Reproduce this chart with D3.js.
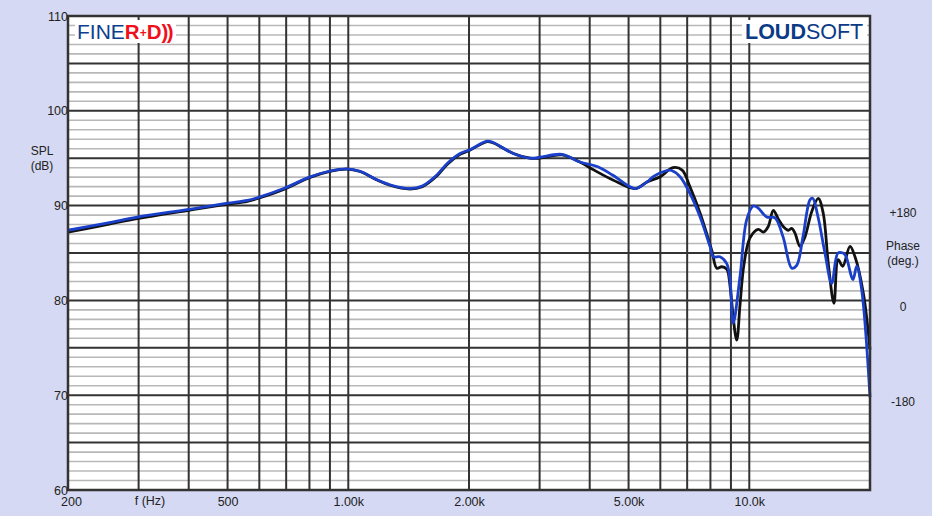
<!DOCTYPE html>
<html><head><meta charset="utf-8">
<script src="https://cdn.jsdelivr.net/npm/d3@7"></script>
<style>
html,body{margin:0;padding:0;background:#d5d9f3;}
svg{display:block;font-family:"Liberation Sans",Arial,Helvetica,sans-serif;}
</style></head><body>
<svg id="chart" width="932" height="516"></svg>
<script>
// ---- data ----
const blackFreq = [200,250,300,400,500,560,600,690,800,900,990,1070,1180,1270,1425,1530,1660,1770,1900,2010,2220,2300,2580,2840,3000,3410,3780,4000,4570,5190,5560,6000,6450,6800,7110,7540,8060,8300,8540,8780,8860,9300,9480,9700,10040,10530,10840,11150,11480,11810,12150,12510,12760,13000,13380,13770,14310,14860,15290,15740,16260,16660,17100,17830,18350,19250,20000];
const blackDb   = [87.2,88.0,88.65,89.5,90.15,90.45,90.8,91.7,92.95,93.6,93.85,93.6,92.7,92.15,91.75,92.0,93.1,94.4,95.4,95.85,96.75,96.6,95.5,95.0,95.0,95.35,94.6,94.0,92.7,91.8,92.5,93.05,94.0,93.75,92.0,89.2,85.3,83.4,83.55,83.3,82.9,75.8,79.5,83.8,86.6,87.5,87.2,87.8,89.5,88.6,87.8,87.4,87.6,87.1,85.7,86.7,89.35,90.77,89.2,83.9,79.7,84.3,83.6,85.7,84.6,80.75,74.8];
const blueFreq  = [200,250,300,400,500,560,600,690,800,900,990,1070,1180,1270,1425,1530,1660,1770,1900,2010,2220,2300,2580,2840,3000,3410,3780,4190,4570,5190,5560,5760,6230,6400,6720,7110,7540,7980,8140,8450,8780,8950,9120,9480,9850,10230,10510,11050,11590,12140,12760,13130,13610,14170,14390,14840,15440,16050,16640,17120,17400,18140,18530,19070,20000];
const blueDb    = [87.4,88.15,88.8,89.6,90.25,90.55,90.9,91.8,93.0,93.65,93.88,93.62,92.72,92.2,91.8,92.07,93.2,94.5,95.5,95.9,96.8,96.65,95.5,95.0,95.1,95.4,94.6,94.1,93.2,91.8,92.5,93.05,93.7,93.7,93.05,91.3,88.8,85.7,84.6,84.6,83.9,82.2,77.6,82.5,88.5,89.96,89.75,88.8,88.7,86.7,83.4,83.7,86.7,90.6,90.77,88.8,85.0,81.8,85.0,85.0,84.7,82.2,83.6,81.1,69.8];

const xTickValues = [200,500,1000,2000,5000,10000];
const xTickLabels = ["200","500","1.00k","2.00k","5.00k","10.0k"];
const gridFreqs = [300,400,500,600,700,800,900,1000,2000,3000,4000,5000,6000,7000,8000,9000,10000];
const yTickValues = [60,70,80,90,100,110];
const phaseTickValues = [180,0,-180];
const phaseTickLabels = ["+180","0","-180"];

// ---- layout ----
const L = 68, R = 870, T = 16, B = 490;
const svg = d3.select("#chart");
const x = d3.scaleLog().domain([200,20000]).range([L,R]);
const y = d3.scaleLinear().domain([60,110]).range([B,T]);
const phase = d3.scaleLinear().domain([-180,180]).range([y(70), y(90)]);

svg.append("rect").attr("width",932).attr("height",516).attr("fill","#d5d9f3");
svg.append("rect").attr("x",L).attr("y",T).attr("width",R-L).attr("height",B-T).attr("fill","#ffffff");

// minor horizontal grid (1 dB)
const minor = d3.range(61,110).filter(v => v % 5 !== 0);
svg.append("g").selectAll("line").data(minor).join("line")
  .attr("x1",L).attr("x2",R).attr("y1",d=>y(d)).attr("y2",d=>y(d))
  .attr("stroke","#b8b8b8").attr("stroke-width",1.6);
// vertical grid
svg.append("g").selectAll("line").data(gridFreqs).join("line")
  .attr("x1",d=>x(d)).attr("x2",d=>x(d)).attr("y1",T).attr("y2",B)
  .attr("stroke","#333").attr("stroke-width",2);
// major horizontal grid (5 dB)
svg.append("g").selectAll("line").data(d3.range(65,110,5)).join("line")
  .attr("x1",L).attr("x2",R).attr("y1",d=>y(d)).attr("y2",d=>y(d))
  .attr("stroke","#333").attr("stroke-width",2);

// logos
svg.append("rect").attr("x",75).attr("y",20).attr("width",101).attr("height",23).attr("fill","#fff");
const fine = svg.append("text").attr("x",77).attr("y",39).attr("font-size",21);
fine.append("tspan").attr("fill","#0d3f8f").text("FINE");
fine.append("tspan").attr("fill","#f0101c").attr("font-weight","bold").attr("font-size",20.5).text("R");
fine.append("tspan").attr("fill","#f0101c").attr("font-weight","bold").attr("font-size",12).attr("dy",-2).text("+");
fine.append("tspan").attr("fill","#f0101c").attr("font-weight","bold").attr("font-size",20.5).attr("dy",2).text("D");
fine.append("tspan").attr("fill","#f0101c").attr("font-weight","bold").attr("font-size",20.5).attr("letter-spacing",-1.5).text("))");

svg.append("rect").attr("x",742).attr("y",20).attr("width",125).attr("height",23).attr("fill","#fff");
const loud = svg.append("text").attr("x",745).attr("y",38.5).attr("font-size",21.5).attr("fill","#0b3a86");
loud.append("tspan").attr("font-weight","bold").text("LOUD");
loud.append("tspan").text("SOFT");

// curves
const line = d3.line().x(d=>x(d[0])).y(d=>y(d[1])).curve(d3.curveCatmullRom.alpha(0.5));
const blackData = blackFreq.map((f,i)=>[f,blackDb[i]]);
const blueData = blueFreq.map((f,i)=>[f,blueDb[i]]);
svg.append("path").datum(blackData).attr("d",line).attr("fill","none")
  .attr("stroke","#111").attr("stroke-width",2.8).attr("stroke-linejoin","round");
svg.append("path").datum(blueData).attr("d",line).attr("fill","none")
  .attr("stroke","#1a3fc8").attr("stroke-width",2.8).attr("stroke-linejoin","round");

// border
svg.append("rect").attr("x",L).attr("y",T).attr("width",R-L).attr("height",B-T)
  .attr("fill","none").attr("stroke","#333").attr("stroke-width",2.5);

// axes
const yAxis = d3.axisLeft(y).tickValues(yTickValues).tickSize(0).tickPadding(0).tickFormat(d3.format("d"));
const gy = svg.append("g").attr("transform",`translate(${L},0)`).call(yAxis);
gy.select(".domain").remove();
gy.selectAll("text").attr("font-size",12.5).attr("fill","#222").attr("font-family","Liberation Sans, Arial, sans-serif");

const xAxis = d3.axisBottom(x).tickValues(xTickValues).tickSize(0).tickPadding(7)
  .tickFormat((d,i)=>xTickLabels[i]);
const gx = svg.append("g").attr("transform",`translate(0,${B})`).call(xAxis);
gx.select(".domain").remove();
gx.selectAll("text").attr("font-size",12.5).attr("fill","#222").attr("font-family","Liberation Sans, Arial, sans-serif");
gx.selectAll(".tick").filter(d=>d===200).select("text").attr("dx",3);

svg.append("text").attr("x",150).attr("y",505).attr("text-anchor","middle")
  .attr("font-size",12.5).attr("fill","#222").text("f (Hz)");

// axis titles
svg.append("text").attr("x",42).attr("y",155).attr("text-anchor","middle").attr("font-size",12).attr("fill","#222").text("SPL");
svg.append("text").attr("x",42).attr("y",169.5).attr("text-anchor","middle").attr("font-size",12).attr("fill","#222").text("(dB)");
svg.append("text").attr("x",903).attr("y",250).attr("text-anchor","middle").attr("font-size",12).attr("fill","#222").text("Phase");
svg.append("text").attr("x",903).attr("y",264.5).attr("text-anchor","middle").attr("font-size",12).attr("fill","#222").text("(deg.)");

svg.append("g").selectAll("text").data(phaseTickValues).join("text")
  .attr("x",903).attr("y",d=>phase(d)+11).attr("text-anchor","middle")
  .attr("font-size",12).attr("fill","#222").text((d,i)=>phaseTickLabels[i]);
</script>
</body></html>
